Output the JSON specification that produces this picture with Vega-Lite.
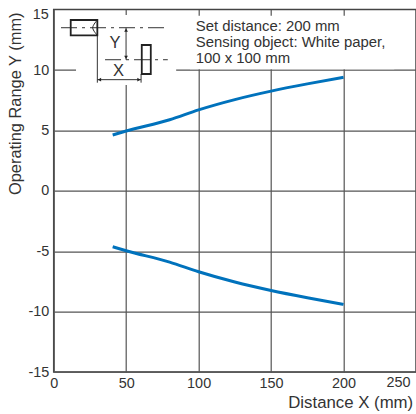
{
"$schema":"https://vega.github.io/schema/vega-lite/v6.json",
"width":362.3,"height":362.4,
"autosize":{"type":"none"},
"padding":{"left":53.7,"top":9.6,"right":0,"bottom":42},
"background":"white",
"view":{"stroke":"#444","strokeWidth":1.5},
"config":{"font":"Liberation Sans","text":{"font":"Liberation Sans","color":"#333","fontSize":15}},
"datasets":{
"curves":[
{"x":40.7,"y":4.62,"s":"upper"},{"x":50,"y":4.95,"s":"upper"},{"x":80,"y":5.88,"s":"upper"},{"x":100,"y":6.7,"s":"upper"},{"x":125,"y":7.55,"s":"upper"},{"x":150,"y":8.25,"s":"upper"},{"x":175,"y":8.85,"s":"upper"},{"x":200,"y":9.4,"s":"upper"},
{"x":40.7,"y":-4.63,"s":"lower"},{"x":50,"y":-4.96,"s":"lower"},{"x":80,"y":-5.9,"s":"lower"},{"x":100,"y":-6.7,"s":"lower"},{"x":125,"y":-7.55,"s":"lower"},{"x":150,"y":-8.25,"s":"lower"},{"x":175,"y":-8.85,"s":"lower"},{"x":200,"y":-9.4,"s":"lower"}],
"masks":[{"x":15.4,"x2":84.5,"y":14.55,"y2":8.76},{"x":94,"x2":235,"y":14.5,"y2":10.06}],
"boxes":[{"x":11.74,"x2":30.11,"y":14.14,"y2":12.87},{"x":60.77,"x2":66.99,"y":12.07,"y2":9.67}],
"thin":[{"x":30.11,"x2":30.11,"y":12.87,"y2":8.95},{"x":60.29,"x2":60.29,"y":9.67,"y2":8.95},{"x":49.93,"x2":49.93,"y":13.5,"y2":10.85},{"x":30.11,"x2":60.29,"y":9.2,"y2":9.2}],
"dash":[{"x":5.04,"x2":78.04,"y":13.5,"y2":13.5},{"x":35.43,"x2":78.73,"y":10.85,"y2":10.85}],
"lens":[{"x":30.11,"y":14.14,"o":1},{"x":26.9,"y":13.5,"o":2},{"x":30.11,"y":12.87,"o":3}],
"arrows":[{"x":49.93,"y":13.3,"d":"up"},{"x":49.93,"y":11.05,"d":"down"},{"x":31.6,"y":9.2,"d":"left"},{"x":58.8,"y":9.2,"d":"right"}],
"notes":[{"x":98,"y":13.58,"t":"Set distance: 200 mm"},{"x":98,"y":12.23,"t":"Sensing object: White paper,"},{"x":98,"y":10.91,"t":"100 x 100 mm"}],
"letters":[{"x":42.3,"y":12.24,"t":"Y"},{"x":44.7,"y":9.92,"t":"X"}],
"xlab":[{"x":238,"y":-15,"t":"250"}],
"ylab":[{"x":0,"y":14.55,"t":"15"}]
},
"layer":[
{"data":{"name":"masks"},"mark":{"type":"rect","fill":"white"},
"encoding":{
"x":{"field":"x","type":"quantitative","scale":{"domain":[0,250],"nice":false,"zero":false},
"axis":{"values":[0,50,100,150,200],"title":"Distance X (mm)","titleFont":"Liberation Sans","titleFontSize":16.8,"titleFontWeight":"normal","titleColor":"#333","titleAnchor":"end","titleAlign":"right","titlePadding":5,"titleX":359,"labelFont":"Liberation Sans","labelFontSize":14.4,"labelColor":"#333","labelPadding":4,"labelFlush":false,"ticks":false,"domain":false,"grid":true,"gridColor":"#555","gridWidth":1.2,"gridOpacity":1}},
"x2":{"field":"x2"},
"y":{"field":"y","type":"quantitative","scale":{"domain":[-15,15],"nice":false,"zero":false},
"axis":{"values":[-15,-10,-5,0,5,10],"labelExpr":"''+datum.value","title":"Operating Range Y (mm)","titleFont":"Liberation Sans","titleFontSize":16.4,"titleFontWeight":"normal","titleColor":"#333","titleAnchor":"end","titleX":-30.7,"titleY":2.4,"labelFont":"Liberation Sans","labelFontSize":14.4,"labelColor":"#333","labelPadding":5,"ticks":false,"domain":false,"grid":true,"gridColor":"#555","gridWidth":1.2,"gridOpacity":1}},
"y2":{"field":"y2"}}},
{"data":{"name":"curves"},"mark":{"type":"line","color":"#0072bc","strokeWidth":3,"interpolate":"monotone"},
"encoding":{"x":{"field":"x","type":"quantitative"},"y":{"field":"y","type":"quantitative"},"detail":{"field":"s"}}},
{"data":{"name":"dash"},"mark":{"type":"rule","color":"#333","strokeWidth":1,"strokeDash":[16,5,3,5]},
"encoding":{"x":{"field":"x","type":"quantitative"},"x2":{"field":"x2"},"y":{"field":"y","type":"quantitative"},"y2":{"field":"y2"}}},
{"data":{"name":"thin"},"mark":{"type":"rule","color":"#333","strokeWidth":1},
"encoding":{"x":{"field":"x","type":"quantitative"},"x2":{"field":"x2"},"y":{"field":"y","type":"quantitative"},"y2":{"field":"y2"}}},
{"data":{"name":"boxes"},"mark":{"type":"rect","fill":null,"stroke":"#222","strokeWidth":1.8},
"encoding":{"x":{"field":"x","type":"quantitative"},"x2":{"field":"x2"},"y":{"field":"y","type":"quantitative"},"y2":{"field":"y2"}}},
{"data":{"name":"lens"},"mark":{"type":"line","color":"#222","strokeWidth":1,"interpolate":"cardinal"},
"encoding":{"x":{"field":"x","type":"quantitative"},"y":{"field":"y","type":"quantitative"},"order":{"field":"o","type":"quantitative"}}},
{"data":{"name":"arrows"},"mark":{"type":"point","filled":true,"color":"#222","size":14,"opacity":1},
"encoding":{"x":{"field":"x","type":"quantitative"},"y":{"field":"y","type":"quantitative"},
"shape":{"field":"d","type":"nominal","legend":null,"scale":{"domain":["up","down","left","right"],"range":["triangle-up","triangle-down","triangle-left","triangle-right"]}}}},
{"data":{"name":"notes"},"mark":{"type":"text","align":"left","baseline":"middle","fontSize":14.9},
"encoding":{"x":{"field":"x","type":"quantitative"},"y":{"field":"y","type":"quantitative"},"text":{"field":"t"}}},
{"data":{"name":"letters"},"mark":{"type":"text","align":"center","baseline":"middle","fontSize":16.5},
"encoding":{"x":{"field":"x","type":"quantitative"},"y":{"field":"y","type":"quantitative"},"text":{"field":"t"}}},
{"data":{"name":"xlab"},"mark":{"type":"text","align":"center","baseline":"top","fontSize":14.4,"dy":4,"clip":false},
"encoding":{"x":{"field":"x","type":"quantitative"},"y":{"field":"y","type":"quantitative"},"text":{"field":"t"}}},
{"data":{"name":"ylab"},"mark":{"type":"text","align":"right","baseline":"middle","fontSize":14.4,"dx":-5},
"encoding":{"x":{"field":"x","type":"quantitative"},"y":{"field":"y","type":"quantitative"},"text":{"field":"t"}}}
]
}
